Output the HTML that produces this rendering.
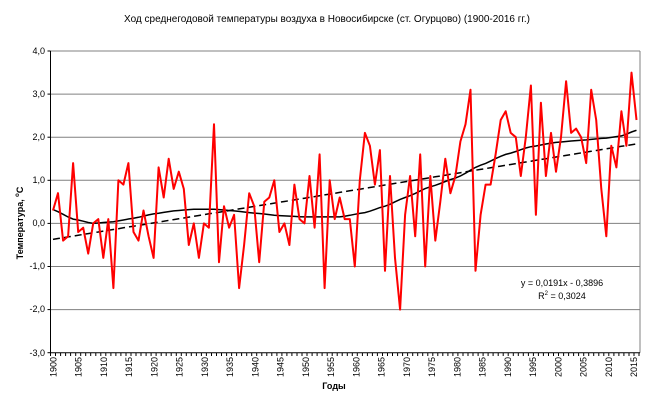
<!DOCTYPE html>
<html><head><meta charset="utf-8"><style>
html,body{margin:0;padding:0;background:#fff;}
svg{display:block;font-family:"Liberation Sans",sans-serif;}
</style></head><body>
<svg id="s" width="650" height="405" viewBox="0 0 650 405" xmlns="http://www.w3.org/2000/svg">
<rect width="650" height="405" fill="#fff"/>
<text x="327" y="22" font-size="10" text-anchor="middle" fill="#000">Ход среднегодовой температуры воздуха в Новосибирске (ст. Огурцово) (1900-2016 гг.)</text>
<g stroke="#808080" stroke-width="1">
<line x1="50.5" y1="51" x2="640" y2="51"/>
<line x1="50.5" y1="94.1" x2="640" y2="94.1"/>
<line x1="50.5" y1="137.2" x2="640" y2="137.2"/>
<line x1="50.5" y1="180.3" x2="640" y2="180.3"/>
<line x1="50.5" y1="223.4" x2="640" y2="223.4"/>
<line x1="50.5" y1="266.5" x2="640" y2="266.5"/>
<line x1="50.5" y1="309.6" x2="640" y2="309.6"/>
<line x1="640" y1="51" x2="640" y2="352.7"/>
</g>
<g stroke="#000" stroke-width="1">
<line x1="50.5" y1="51" x2="50.5" y2="352.7"/>
<line x1="50.5" y1="352.7" x2="640" y2="352.7"/>
</g>
<g id="ticks" stroke="#000" stroke-width="1"></g>
<g font-size="9" text-anchor="end" fill="#000">
<text x="45" y="54">4,0</text><text x="45" y="97">3,0</text><text x="45" y="140">2,0</text>
<text x="45" y="183">1,0</text><text x="45" y="226">0,0</text><text x="45" y="269">-1,0</text>
<text x="45" y="312">-2,0</text><text x="45" y="356">-3,0</text>
</g>
<g font-size="9" fill="#000" text-anchor="end">
<text transform="translate(56.5,357) rotate(-90)">1900</text>
<text transform="translate(81.7,357) rotate(-90)">1905</text>
<text transform="translate(107,357) rotate(-90)">1910</text>
<text transform="translate(132.2,357) rotate(-90)">1915</text>
<text transform="translate(157.5,357) rotate(-90)">1920</text>
<text transform="translate(182.7,357) rotate(-90)">1925</text>
<text transform="translate(208,357) rotate(-90)">1930</text>
<text transform="translate(233.2,357) rotate(-90)">1935</text>
<text transform="translate(258.5,357) rotate(-90)">1940</text>
<text transform="translate(283.7,357) rotate(-90)">1945</text>
<text transform="translate(309,357) rotate(-90)">1950</text>
<text transform="translate(334.2,357) rotate(-90)">1955</text>
<text transform="translate(359.5,357) rotate(-90)">1960</text>
<text transform="translate(384.7,357) rotate(-90)">1965</text>
<text transform="translate(410,357) rotate(-90)">1970</text>
<text transform="translate(435.2,357) rotate(-90)">1975</text>
<text transform="translate(460.5,357) rotate(-90)">1980</text>
<text transform="translate(485.7,357) rotate(-90)">1985</text>
<text transform="translate(511,357) rotate(-90)">1990</text>
<text transform="translate(536.2,357) rotate(-90)">1995</text>
<text transform="translate(561.5,357) rotate(-90)">2000</text>
<text transform="translate(586.7,357) rotate(-90)">2005</text>
<text transform="translate(612,357) rotate(-90)">2010</text>
<text transform="translate(637.2,357) rotate(-90)">2015</text>
</g>
<text transform="translate(23,223) rotate(-90)" font-size="9" font-weight="bold" text-anchor="middle">Температура, <tspan font-size="6" dy="-4">o</tspan><tspan dy="4">C</tspan></text>
<text x="334" y="389" font-size="9" font-weight="bold" text-anchor="middle">Годы</text>
<polyline id="trend" fill="none" stroke="#000" stroke-width="1.5" stroke-dasharray="7,4"/>
<polyline id="poly" fill="none" stroke="#000" stroke-width="1.5"/>
<polyline id="data" fill="none" stroke="#ff0000" stroke-width="2" stroke-linejoin="round"/>
<text x="562" y="286" font-size="9" text-anchor="middle">y = 0,0191x - 0,3896</text>
<text x="562" y="299" font-size="9" text-anchor="middle">R<tspan font-size="6" dy="-4">2</tspan><tspan dy="4"> = 0,3024</tspan></text>
</svg>
<script>
var d=[0.3,0.7,-0.4,-0.3,1.4,-0.2,-0.1,-0.7,0.0,0.1,-0.8,0.1,-1.5,1.0,0.9,1.4,-0.2,-0.4,0.3,-0.3,-0.8,1.3,0.6,1.5,0.8,1.2,0.8,-0.5,0.0,-0.8,0.0,-0.1,2.3,-0.9,0.4,-0.1,0.2,-1.5,-0.5,0.7,0.4,-0.9,0.5,0.6,1.0,-0.2,0.0,-0.5,0.9,0.1,0.0,1.1,-0.1,1.6,-1.5,1.0,0.1,0.6,0.1,0.1,-1.0,1.0,2.1,1.8,0.9,1.7,-1.1,1.1,-0.8,-2.0,0.2,1.1,-0.3,1.6,-1.0,1.1,-0.4,0.5,1.5,0.7,1.1,1.9,2.3,3.1,-1.1,0.2,0.9,0.9,1.6,2.4,2.6,2.1,2.0,1.1,2.0,3.2,0.2,2.8,1.1,2.1,1.2,2.0,3.3,2.1,2.2,2.0,1.4,3.1,2.4,0.8,-0.3,1.8,1.3,2.6,1.8,3.5,2.4];
function X(i){return 53+i*5.03;}function Y(v){return 223.4-v*43.1;}
var p=[];for(var i=0;i<d.length;i++)p.push(X(i).toFixed(1)+","+Y(d[i]).toFixed(1));
document.getElementById("data").setAttribute("points",p.join(" "));
var t=[];for(var i=0;i<117;i++)t.push(X(i).toFixed(1)+","+Y(0.0191*(i+1)-0.3896).toFixed(1));
document.getElementById("trend").setAttribute("points",t.join(" "));
var k=[[0,0.32],[4,0.1],[8,0.0],[12,0.04],[16,0.12],[20,0.22],[24,0.29],[28,0.33],[32,0.33],[36,0.29],[40,0.24],[45,0.18],[50,0.15],[57,0.15],[62,0.25],[66,0.4],[70,0.6],[75,0.85],[80,1.05],[85,1.35],[90,1.6],[95,1.78],[100,1.88],[105,1.93],[110,1.98],[113,2.03],[116,2.16]];
var q=[];for(var i=0;i<=116;i++){for(var j=0;j<k.length-1&&k[j+1][0]<i;j++);var a=k[j],b=k[j+1]||a;var f=b[0]==a[0]?0:(i-a[0])/(b[0]-a[0]);f=(1-Math.cos(f*Math.PI))/2*0.3+f*0.7;q.push(X(i).toFixed(1)+","+Y(a[1]+(b[1]-a[1])*f).toFixed(1));}
document.getElementById("poly").setAttribute("points",q.join(" "));
var g=document.getElementById("ticks"),h="";for(var i=0;i<=117;i++){var x=(50.5+i*5.03).toFixed(1);h+='<line x1="'+x+'" y1="352.7" x2="'+x+'" y2="356"/>';}
for(var v=-3;v<=4;v++){h+='<line x1="47.5" y1="'+Y(v).toFixed(1)+'" x2="50.5" y2="'+Y(v).toFixed(1)+'"/>';}
g.innerHTML=h;
</script>
</body></html>
